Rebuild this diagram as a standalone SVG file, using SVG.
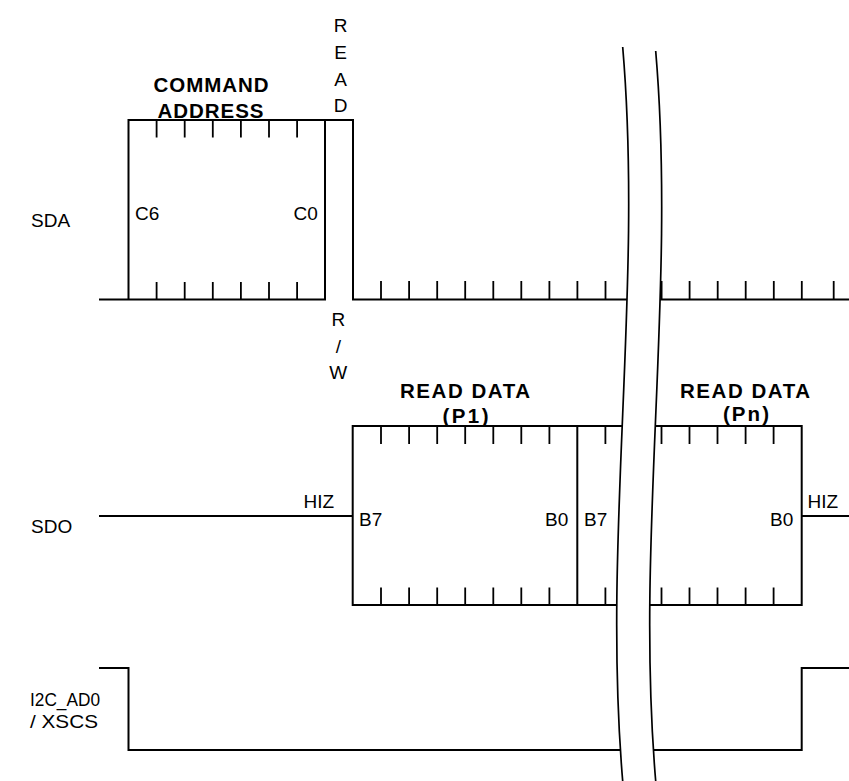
<svg xmlns="http://www.w3.org/2000/svg" width="849" height="781" viewBox="0 0 849 781">
<style>
.w{fill:none;stroke:#000;stroke-width:2;stroke-linecap:square}
.t{fill:none;stroke:#000;stroke-width:1.8}
.br{fill:none;stroke:#000;stroke-width:1.7}
.gap{fill:#fff;stroke:none}
.l{font-family:"Liberation Sans",Arial,sans-serif;font-size:19px;fill:#000}
.b{font-family:"Liberation Sans",Arial,sans-serif;font-size:20.5px;font-weight:bold;fill:#000}
</style>
<rect width="849" height="781" fill="#fff"/>
<g id="sda">
<path class="w" d="M100 299.5H325V120M128.5 299.5V120H353V299.5H849"/>
<path class="t" d="M156.6 120v17.5M184.7 120v17.5M212.8 120v17.5M240.9 120v17.5M269 120v17.5M297.1 120v17.5
M156.6 282v17.5M184.7 282v17.5M212.8 282v17.5M240.9 282v17.5M269 282v17.5M297.1 282v17.5
M381 281v18.5M409.1 281v18.5M437.2 281v18.5M465.2 281v18.5M493.3 281v18.5M521.3 281v18.5M549.4 281v18.5M577.4 281v18.5M605.5 281v18.5
M661.6 281v18.5M689.6 281v18.5M717.7 281v18.5M745.7 281v18.5M773.8 281v18.5M801.8 281v18.5M833.7 281v18.5"/>
</g>
<g id="sdo">
<path class="w" d="M100 516H352.7M352.7 426V605H690M352.7 426H690M577.3 426V605M801.7 426V605M640 426H801.7M640 605H801.7M801.7 516H849"/>
<path class="t" d="M381 426v18M409.1 426v18M437.2 426v18M465.2 426v18M493.3 426v18M521.3 426v18M549.4 426v18M605.4 426v18M661.5 426v18M689.5 426v18M717.5 426v18M745.6 426v18M773.6 426v18
M381 587.5v17.5M409.1 587.5v17.5M437.2 587.5v17.5M465.2 587.5v17.5M493.3 587.5v17.5M521.3 587.5v17.5M549.4 587.5v17.5M605.4 587.5v17.5M661.5 587.5v17.5M689.5 587.5v17.5M717.5 587.5v17.5M745.6 587.5v17.5M773.6 587.5v17.5"/>
</g>
<g id="xscs">
<path class="w" d="M100 668H128.5V750H801.7V668H849"/>
</g>
<g id="break">
<path class="gap" d="M622.7 47C643.5 291.7 601.9 536.3 622.7 781H655.7C634.9 537 676.5 295 655.7 51Z"/>
<path class="br" d="M622.7 47C643.5 291.7 601.9 536.3 622.7 781M655.7 51C676.5 295 634.9 537 655.7 781"/>
</g>
<g id="labels">
<text class="l" x="31" y="227.3">SDA</text>
<text class="l" x="31" y="533.3">SDO</text>
<text class="l" x="30" y="706" textLength="70" lengthAdjust="spacingAndGlyphs">I2C_AD0</text>
<text class="l" x="30" y="728" textLength="68" lengthAdjust="spacingAndGlyphs">/ XSCS</text>
<text class="b" x="153.5" y="91.7" textLength="115" lengthAdjust="spacing">COMMAND</text>
<text class="b" x="157.5" y="118.3" textLength="106" lengthAdjust="spacing">ADDRESS</text>
<text class="l" x="340.7" y="32.3" text-anchor="middle">R</text>
<text class="l" x="340.7" y="59" text-anchor="middle">E</text>
<text class="l" x="340.7" y="85.7" text-anchor="middle">A</text>
<text class="l" x="340.7" y="112.3" text-anchor="middle">D</text>
<text class="l" x="338.3" y="326" text-anchor="middle">R</text>
<text class="l" x="338.3" y="352.7" text-anchor="middle">/</text>
<text class="l" x="338.3" y="379.3" text-anchor="middle">W</text>
<text class="l" x="135" y="220">C6</text>
<text class="l" x="293.5" y="220">C0</text>
<text class="b" x="400" y="398.3" textLength="130" lengthAdjust="spacing">READ DATA</text>
<text class="b" x="442.5" y="423" textLength="46" lengthAdjust="spacing">(P1)</text>
<text class="b" x="680" y="397.7" textLength="130" lengthAdjust="spacing">READ DATA</text>
<text class="b" x="723" y="421" textLength="46" lengthAdjust="spacing">(Pn)</text>
<text class="l" x="303.5" y="508.3">HIZ</text>
<text class="l" x="359" y="526">B7</text>
<text class="l" x="545" y="526">B0</text>
<text class="l" x="584" y="526">B7</text>
<text class="l" x="770" y="526">B0</text>
<text class="l" x="807.5" y="508">HIZ</text>
</g>
</svg>
